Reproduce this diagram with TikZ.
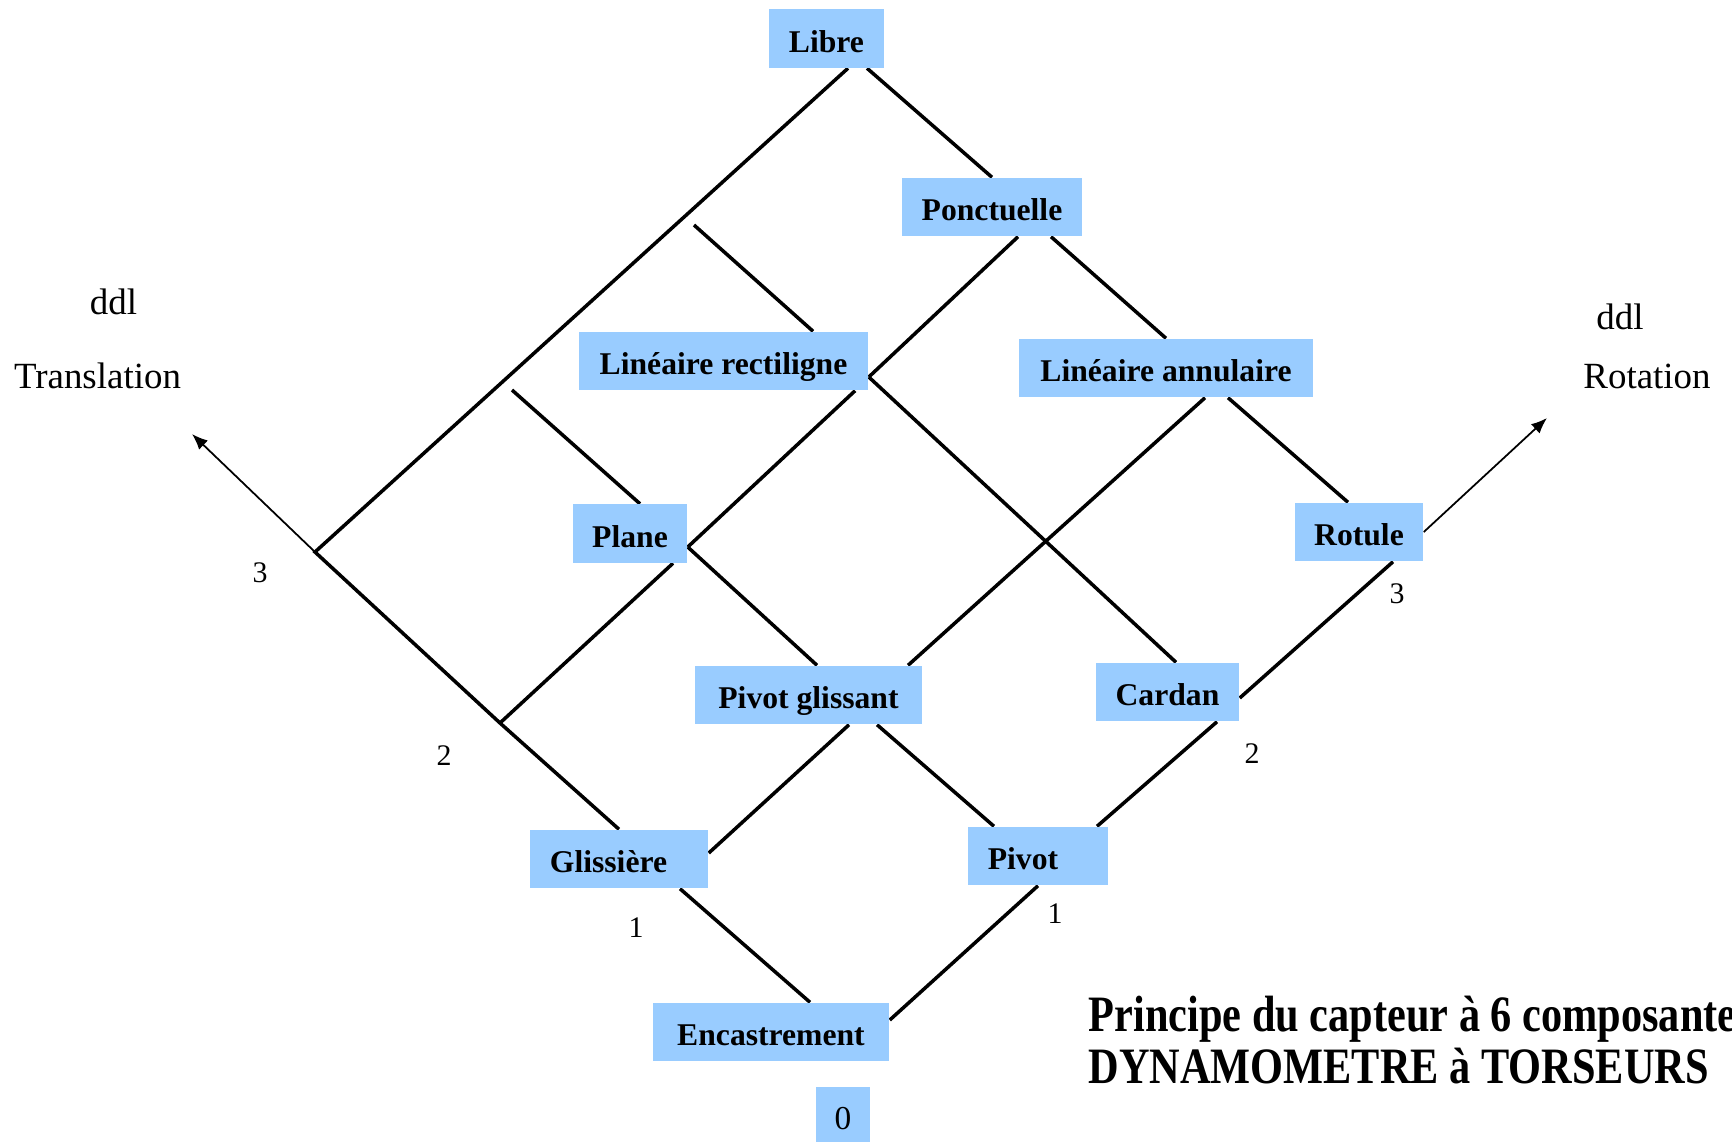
\documentclass[tikz,border=0pt]{standalone}
\usepackage{fontspec}
\usepackage{graphicx}
\setmainfont{Liberation Serif}
\usetikzlibrary{arrows.meta,backgrounds,calc}
\definecolor{boxblue}{RGB}{153,204,255}
\begin{document}
\begin{tikzpicture}[x=0.01cm,y=-0.01cm,
  box/.style={fill=boxblue, inner sep=0pt, minimum height=0.58cm,
    font=\bfseries\fontsize{9}{10}\selectfont, text height=8.5pt, text depth=0.8pt},
  conn/.style={line width=1pt, line join=miter},
  axis/.style={line width=0.5pt, -{Latex[length=4.5pt,width=3.6pt]}},
  lbl/.style={anchor=base, inner sep=0pt, font=\fontsize{10.5}{12}\selectfont},
  num/.style={anchor=base, inner sep=0pt, font=\fontsize{8.5}{10}\selectfont},
  ttl/.style={anchor=base west, inner sep=0pt, font=\bfseries\fontsize{14.5}{16}\selectfont}]
\useasboundingbox (0,0) rectangle (1732,1141);

% boxes
\node[box, minimum width=1.15cm] (libre)   at (826.5,38.5) {Libre};
\node[box, minimum width=1.80cm] (ponct)   at (992,207)    {Ponctuelle};
\node[box, minimum width=2.89cm] (linrect) at (723.5,361)  {Linéaire rectiligne};
\node[box, minimum width=2.94cm] (linann)  at (1166,368)   {Linéaire annulaire};
\node[box, minimum width=1.14cm] (plane)   at (630,533.5)  {Plane};
\node[box, minimum width=1.28cm] (rotule)  at (1359,532)   {Rotule};
\node[box, minimum width=2.27cm] (pivgl)   at (808.5,695)  {Pivot glissant};
\node[box, minimum width=1.43cm] (cardan)  at (1167.5,692) {Cardan};
\node[box, minimum width=1.78cm] (gliss)   at (619,859)    {Glissière\hspace*{0.21cm}};
\node[box, minimum width=1.40cm] (pivot)   at (1038,856)   {Pivot\hspace*{0.30cm}};
\node[box, minimum width=2.36cm] (encas)   at (771,1032)   {Encastrement};
\node[box, minimum width=0.54cm, font=\fontsize{9.5}{11}\selectfont] (zero) at (843,1116) {0};

% free points
\coordinate (c3) at (315,552);
\coordinate (c2) at (500,723);
\coordinate (tipT) at (192,434);
\coordinate (tipR) at (1547,418);
\coordinate (f1) at (694,225);
\coordinate (f2) at (512,390);

\begin{pgfonlayer}{background}
\draw[conn] ([xshift=0.215cm]libre.south) -- (c3) -- (c2) -- (gliss.north);
\draw[conn] ([xshift=0.405cm]libre.south) -- (ponct.north);
\draw[conn] ([xshift=0.61cm]gliss.south) -- ([xshift=0.39cm]encas.north);
\draw[conn] ([yshift=0.12cm]encas.east) -- (pivot.south);
\draw[conn] ([xshift=0.59cm]pivot.north) -- ([xshift=0.495cm]cardan.south);
\draw[conn] ([yshift=-0.06cm]cardan.east) -- ([xshift=0.34cm]rotule.south);
\draw[conn] ([yshift=0.06cm]gliss.east) -- ([xshift=0.405cm]pivgl.south);
\draw[conn] ([xshift=0.685cm]pivgl.south) -- ([xshift=-0.44cm]pivot.north);
\draw[conn] (c2) -- ([xshift=0.43cm]plane.south);
\draw[conn] ([yshift=-0.135cm]plane.east) -- ([xshift=1.315cm]linrect.south);
\draw[conn] ([yshift=-0.135cm]plane.east) -- ([xshift=0.085cm]pivgl.north);
\draw[conn] ([yshift=-0.16cm]linrect.east) -- ([xshift=0.26cm]ponct.south);
\draw[conn] ([yshift=-0.16cm]linrect.east) -- ([xshift=0.085cm]cardan.north);
\draw[conn] ([xshift=0.59cm]ponct.south) -- (linann.north);
\draw[conn] ([xshift=0.39cm]linann.south) -- ([xshift=0.995cm]pivgl.north);
\draw[conn] ([xshift=0.62cm]linann.south) -- ([xshift=-0.11cm]rotule.north);
\draw[conn] (f1) -- ([xshift=0.895cm]linrect.north);
\draw[conn] (f2) -- ([xshift=0.10cm]plane.north);
\draw[axis] (c3) -- (tipT);
\draw[axis] (rotule.east) -- (tipR);
\end{pgfonlayer}

% axis labels
\node[lbl] (ddlT) at (113.5,314) {ddl};
\node[lbl] (trans) at (97.5,388) {Translation};
\node[lbl] (ddlR) at (1620,329) {ddl};
\node[lbl] (rot) at (1647,388) {Rotation};

% numbers
\node[num] (n3l) at (260,582) {3};
\node[num] (n2l) at (444,765) {2};
\node[num] (n1l) at (636,937) {1};
\node[num] (n1r) at (1055,923) {1};
\node[num] (n2r) at (1252,763) {2};
\node[num] (n3r) at (1397,603) {3};

% title
\node[ttl] (t1) at (1088,1031) {\scalebox{0.83}[1]{Principe du capteur à 6 composante}};
\node[ttl] (t2) at (1088,1083) {\scalebox{0.83}[1]{DYNAMOMETRE à TORSEURS}};
\end{tikzpicture}
\end{document}
